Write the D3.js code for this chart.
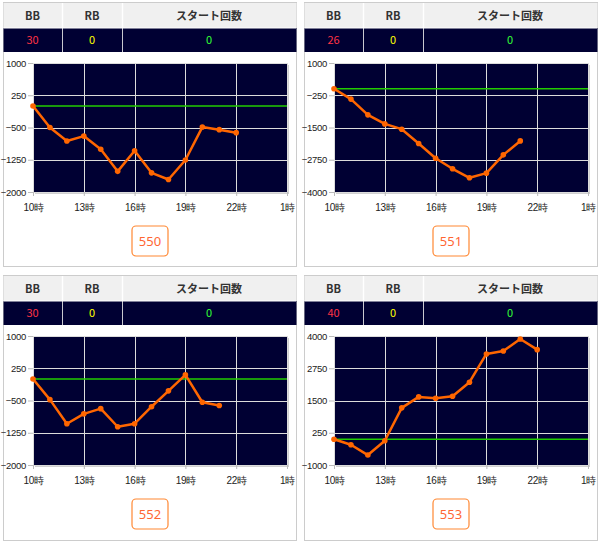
<!DOCTYPE html>
<html><head><meta charset="utf-8">
<script src="https://cdn.jsdelivr.net/npm/d3@7"></script>
<style>
html,body{margin:0;padding:0;background:#fff;}
svg{display:block;font-family:"Noto Sans CJK JP","Noto Sans",sans-serif;}
</style></head><body>
<svg id="c" width="600" height="544"></svg>
<script>
const machines = ["550", "551", "552", "553"];
const bbCounts = [30, 26, 30, 40];
const rbCounts = [0, 0, 0, 0];
const startCounts = [0, 0, 0, 0];
const headers = ["BB", "RB", "スタート回数"];
const xTickHours = [10, 13, 16, 19, 22, 25];
const xTickLabels = ["10時", "13時", "16時", "19時", "22時", "1時"];
const hours550 = [10, 11, 12, 13, 14, 15, 16, 17, 18, 19, 20, 21, 22];
const values550 = [0, -500, -815, -700, -1005, -1520, -1040, -1555, -1710, -1255, -490, -550, -620];
const hours551 = [10, 11, 12, 13, 14, 15, 16, 17, 18, 19, 20, 21];
const values551 = [0, -400, -1010, -1360, -1565, -2120, -2690, -3100, -3450, -3270, -2560, -2020];
const hours552 = [10, 11, 12, 13, 14, 15, 16, 17, 18, 19, 20, 21];
const values552 = [0, -480, -1040, -810, -690, -1110, -1040, -645, -275, 95, -540, -615];
const hours553 = [10, 11, 12, 13, 14, 15, 16, 17, 18, 19, 20, 21, 22];
const values553 = [0, -215, -615, -60, 1215, 1640, 1590, 1665, 2210, 3305, 3420, 3885, 3470];
const yTicks550 = [1000, 250, -500, -1250, -2000];
const yTicks551 = [1000, -250, -1500, -2750, -4000];
const yTicks552 = [1000, 250, -500, -1250, -2000];
const yTicks553 = [4000, 2750, 1500, 250, -1000];

const panels = [
  {i:0, hours:hours550, values:values550, ticks:yTicks550, x0:3, y0:2},
  {i:1, hours:hours551, values:values551, ticks:yTicks551, x0:304, y0:2},
  {i:2, hours:hours552, values:values552, ticks:yTicks552, x0:3, y0:275},
  {i:3, hours:hours553, values:values553, ticks:yTicks553, x0:304, y0:275}
];

const svg = d3.select("#c");
const W = 293;
const colX = [0, 59, 119, W];

panels.forEach(p => {
  const g = svg.append("g").attr("transform", `translate(${p.x0},${p.y0})`);
  const H = p.y0 < 100 ? 264 : 265;
  g.append("rect").attr("x", 0.5).attr("y", 0.5).attr("width", W).attr("height", H)
    .attr("fill", "#fff").attr("stroke", "#cccccc");
  g.append("rect").attr("x", 0.5).attr("y", 1).attr("width", W).attr("height", 25).attr("fill", "#f0f0f0");
  g.append("rect").attr("x", 0.5).attr("y", 26).attr("width", W).attr("height", 24).attr("fill", "#000033");
  [1, 2].forEach(k => {
    g.append("line").attr("x1", colX[k] + 0.5).attr("x2", colX[k] + 0.5).attr("y1", 1).attr("y2", 26)
      .attr("stroke", "#ffffff").attr("stroke-width", 1.5);
    g.append("line").attr("x1", colX[k] + 0.5).attr("x2", colX[k] + 0.5).attr("y1", 26).attr("y2", 50)
      .attr("stroke", "#c8c8d0").attr("stroke-width", 1);
  });
  g.append("line").attr("x1", 0.5).attr("x2", W).attr("y1", 26).attr("y2", 26).attr("stroke", "#ffffff");
  headers.forEach((h, k) => {
    g.append("text").attr("x", (colX[k] + colX[k + 1]) / 2).attr("y", 18)
      .attr("text-anchor", "middle").attr("font-size", 11).attr("font-weight", "bold")
      .attr("fill", "#333").text(h);
  });
  const vals = [bbCounts[p.i], rbCounts[p.i], startCounts[p.i]];
  const cols = ["#ff3344", "#ffff00", "#33ff33"];
  vals.forEach((v, k) => {
    g.append("text").attr("x", (colX[k] + colX[k + 1]) / 2).attr("y", 42)
      .attr("text-anchor", "middle").attr("font-size", 11)
      .attr("fill", cols[k]).text(v);
  });

  const L = 30, R = 284, T = 61, B = 190;
  const x = d3.scaleLinear().domain([10, 25]).range([L, R]);
  const y = d3.scaleLinear().domain([d3.min(p.ticks), d3.max(p.ticks)]).range([B, T]);
  g.append("rect").attr("x", L + 2).attr("y", T + 2).attr("width", R - L).attr("height", B - T).attr("fill", "#d0d0d0");
  g.append("rect").attr("x", L).attr("y", T).attr("width", R - L).attr("height", B - T).attr("fill", "#000033");
  g.selectAll(".gy").data(p.ticks).enter().append("line")
    .attr("x1", L).attr("x2", R).attr("y1", d => Math.round(y(d)) + 0.5).attr("y2", d => Math.round(y(d)) + 0.5)
    .attr("stroke", "#dcdcdc").attr("stroke-width", 1);
  g.selectAll(".gx").data(xTickHours).enter().append("line")
    .attr("y1", T).attr("y2", B).attr("x1", d => Math.round(x(d)) + 0.5).attr("x2", d => Math.round(x(d)) + 0.5)
    .attr("stroke", "#dcdcdc").attr("stroke-width", 1);
  const ya = d3.axisLeft(y).tickValues(p.ticks).tickSize(5).tickPadding(2).tickFormat(d3.format("d"));
  const yg = g.append("g").attr("transform", `translate(${L},0)`).call(ya);
  yg.select(".domain").remove();
  yg.selectAll("line").attr("stroke", "#bbbbbb");
  yg.selectAll("text").attr("font-size", 9.5).attr("fill", "#222").attr("letter-spacing", -0.3)
    .attr("font-family", "'Liberation Sans',Arial,sans-serif");
  const xa = d3.axisBottom(x).tickValues(xTickHours).tickSize(4).tickPadding(8)
    .tickFormat((d, k) => xTickLabels[k]);
  const xg = g.append("g").attr("transform", `translate(0,${B})`).call(xa);
  xg.select(".domain").remove();
  xg.selectAll("line").attr("stroke", "#bbbbbb");
  xg.selectAll("text").attr("font-size", 10).attr("fill", "#222").attr("letter-spacing", -0.3);
  g.append("line").attr("x1", L).attr("x2", R).attr("y1", y(0)).attr("y2", y(0))
    .attr("stroke", "#22cc00").attr("stroke-width", 1.5);
  const pts = p.hours.map((h, k) => [h, p.values[k]]);
  g.append("path").datum(pts)
    .attr("d", d3.line().x(d => x(d[0])).y(d => y(d[1])))
    .attr("fill", "none").attr("stroke", "#ff6600").attr("stroke-width", 2.5).attr("stroke-linejoin", "round");
  g.selectAll(".pt").data(pts).enter().append("circle")
    .attr("cx", d => x(d[0])).attr("cy", d => y(d[1])).attr("r", 2.8).attr("fill", "#ff6600");

  const cx = W / 2 + 0.5;
  g.append("rect").attr("x", cx - 18).attr("y", 224).attr("width", 36).attr("height", 30)
    .attr("rx", 4).attr("fill", "#fff").attr("stroke", "#ff8833").attr("stroke-width", 1.2);
  g.append("text").attr("x", cx).attr("y", 244).attr("text-anchor", "middle")
    .attr("font-size", 13).attr("fill", "#ff6633").attr("font-family", "'Noto Sans','DejaVu Sans',sans-serif")
    .text(machines[p.i]);
});
</script>
</body></html>
